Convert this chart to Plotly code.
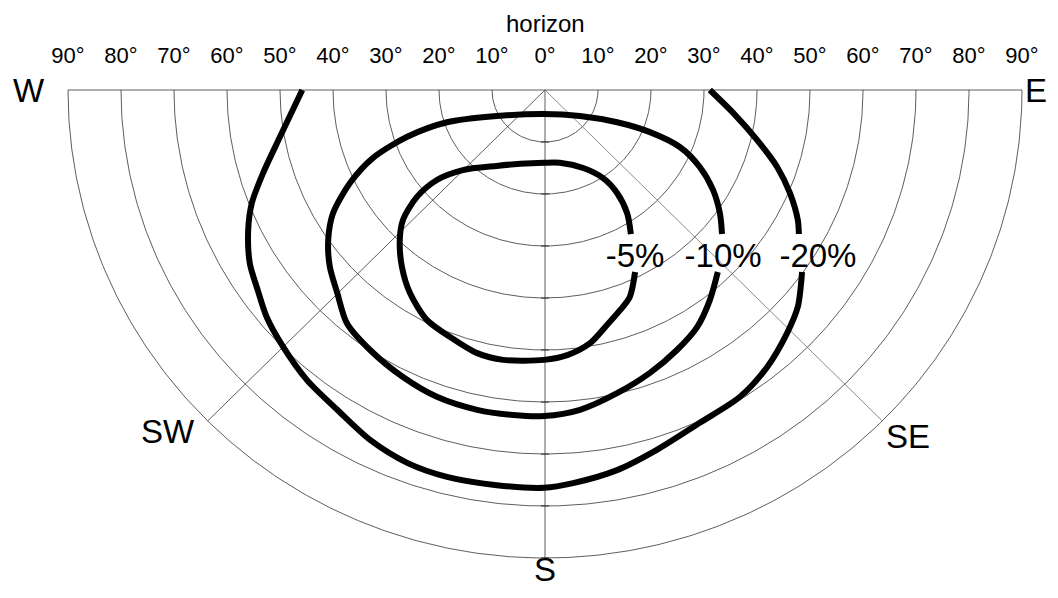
import numpy as np
import plotly.graph_objects as go

# ---- data ----
ring_degrees = [10, 20, 30, 40, 50, 60, 70, 80, 90]
tick_vals = [-90, -80, -70, -60, -50, -40, -30, -20, -10, 0, 10, 20, 30, 40, 50, 60, 70, 80, 90]
tick_text = ["90°", "80°", "70°", "60°", "50°", "40°", "30°", "20°", "10°", "0°",
             "10°", "20°", "30°", "40°", "50°", "60°", "70°", "80°", "90°"]
axis_title = "horizon"
direction_names = ["W", "SW", "S", "SE", "E"]

# contours in projected degrees (x: east +, y: below horizon -)
c5_x = [16.2, 15.5, 13.6, 10.9, 7.2, 2.8, -0.2, -4.7, -9.1, -15.5, -20.4, -24.2, -26.8, -27.4,
        -27.0, -25.5, -22.3, -17.9, -12.8, -7.9, -0.2, 4.2, 8.5, 11.7, 14.2, 16.0, 17.0]
c5_y = [-27.7, -23.7, -19.8, -16.9, -15.0, -14.0, -14.0, -14.2, -14.6, -15.4, -17.3, -20.6, -25.0, -28.8,
        -34.0, -39.0, -44.2, -47.5, -50.6, -51.9, -51.9, -51.0, -48.7, -45.2, -42.3, -39.8, -35.0]

c10_x = [33.4, 33.0, 31.7, 29.2, 25.5, 19.8, 13.6, 6.6, -0.2, -9.1, -18.5, -26.0, -32.5, -36.8, -40.0,
         -40.9, -40.6, -39.2, -37.4, -33.0, -26.8, -20.4, -12.8, -6.0, -0.2, 6.6, 13.6, 19.8, 24.9,
         28.7, 31.1, 32.6]
c10_y = [-27.7, -23.7, -19.2, -14.8, -11.0, -8.1, -6.2, -5.0, -4.6, -5.0, -6.2, -9.0, -13.1, -17.9, -23.7,
         -28.8, -34.0, -39.0, -44.8, -50.0, -55.2, -59.0, -61.5, -62.5, -62.7, -61.5, -58.3, -54.4, -50.0,
         -45.6, -40.4, -35.0]

c20a_x = [31.1, 35.5, 40.0, 43.8, 46.2, 47.7, 47.9]
c20a_y = [0.0, -4.4, -9.6, -14.8, -19.8, -25.0, -27.7]
c20b_x = [48.5, 47.7, 45.7, 41.9, 36.8, 29.2, 21.1, 13.6, 5.3, -0.2, -9.1, -18.5, -26.0, -33.0, -39.2,
          -44.9, -49.4, -52.5, -54.2, -55.7, -56.0, -55.3, -53.2, -50.0, -45.8]
c20b_y = [-35.0, -41.7, -46.7, -53.3, -59.0, -64.0, -69.2, -73.1, -75.6, -76.5, -76.0, -74.4, -71.7, -67.3,
          -61.5, -55.8, -49.4, -43.7, -38.5, -33.3, -26.9, -21.7, -16.0, -9.0, 0.0]

label_text = ["-5%", "-10%", "-20%"]
label_x = [17.0, 33.6, 51.5]
label_y = [-32.5, -32.5, -32.5]

# ---- figure ----
FONT = "Liberation Sans, Arial, Helvetica, sans-serif"
GRID = "#333333"
fig = go.Figure()

t = np.radians(np.linspace(-90, 90, 361))
for r in ring_degrees:
    fig.add_trace(go.Scatter(x=r * np.sin(t), y=-r * np.cos(t), mode="lines",
                             line=dict(color=GRID, width=0.8), hoverinfo="skip", showlegend=False))

R = max(ring_degrees)
fig.add_trace(go.Scatter(x=[-R, R], y=[0, 0], mode="lines", line=dict(color=GRID, width=0.8),
                         hoverinfo="skip", showlegend=False))
for az in [-45, 0, 45]:
    a = np.radians(az)
    fig.add_trace(go.Scatter(x=[0, R * np.sin(a)], y=[0, -R * np.cos(a)], mode="lines",
                             line=dict(color=GRID if az <= 0 else "#707070", width=0.8),
                             hoverinfo="skip", showlegend=False))
fig.add_trace(go.Scatter(x=[0] * len(ring_degrees), y=[-r for r in ring_degrees], mode="markers",
                         marker=dict(symbol="line-ew", size=6, line=dict(color=GRID, width=1)),
                         hoverinfo="skip", showlegend=False))

for cx, cy in [(c5_x, c5_y), (c10_x, c10_y), (c20a_x, c20a_y), (c20b_x, c20b_y)]:
    fig.add_trace(go.Scatter(x=cx, y=cy, mode="lines",
                             line=dict(color="black", width=6, shape="spline", smoothing=0.8),
                             hoverinfo="skip", showlegend=False))

fig.add_trace(go.Scatter(x=label_x, y=label_y, mode="text", text=label_text,
                         textfont=dict(family=FONT, size=33, color="black"),
                         hoverinfo="skip", showlegend=False))

# tick labels along the horizon and axis title
fig.add_trace(go.Scatter(x=tick_vals, y=[6.2] * len(tick_vals), mode="text", text=tick_text,
                         textfont=dict(family=FONT, size=22, color="black"),
                         hoverinfo="skip", showlegend=False))
fig.add_annotation(x=0, y=12.8, text=axis_title, showarrow=False,
                   font=dict(family=FONT, size=24, color="black"))

# direction labels
dir_pos = {"W": (-97.3, 0.0), "SW": (-71.1, -65.6), "S": (0.0, -92.3), "SE": (68.5, -66.6), "E": (92.6, 0.0)}
for name in direction_names:
    px, py = dir_pos[name]
    fig.add_annotation(x=px, y=py, text=name, showarrow=False, borderpad=0,
                       font=dict(family=FONT, size=33, color="black"))

# the page has an 8px body margin; keep the figure inside the window (no scrollbars)
OFF = 8
W, H = 1058 - 2 * OFF, 598 - 2 * OFF
xs, ys = 5.3, 5.2        # px per degree
cx_pg, cy_pg = 545, 90   # page position of the zenith point
fig.update_layout(
    width=W, height=H,
    margin=dict(l=0, r=0, t=0, b=0),
    paper_bgcolor="white", plot_bgcolor="white",
    xaxis=dict(range=[(OFF - cx_pg) / xs, (OFF + W - cx_pg) / xs], visible=False, fixedrange=True),
    yaxis=dict(range=[-(OFF + H - cy_pg) / ys, (cy_pg - OFF) / ys], visible=False, fixedrange=True),
)

fig.write_html("out.html")
